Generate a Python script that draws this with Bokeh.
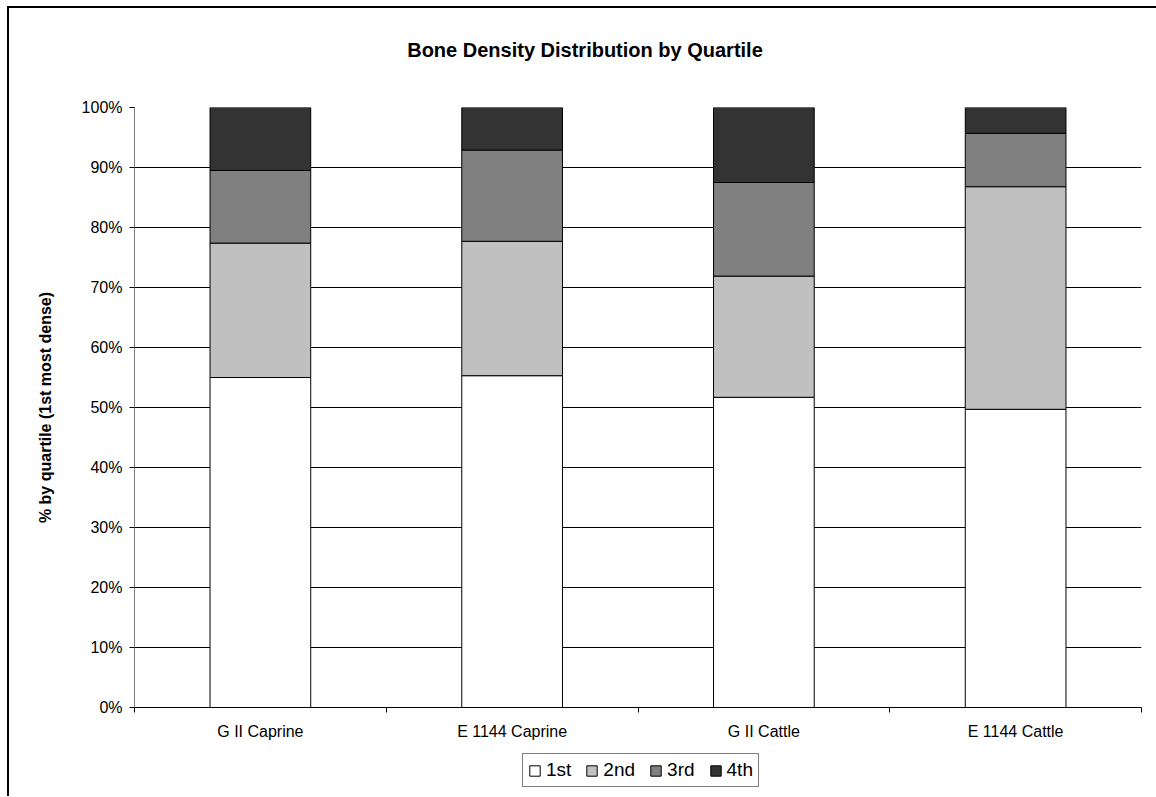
from bokeh.plotting import figure
from bokeh.layouts import column
from bokeh.models import (Range1d, FixedTicker, NumeralTickFormatter, Legend,
                          LegendItem, ColumnDataSource, Label)
from bokeh.embed import file_html
from bokeh.resources import INLINE

# ---- data ----
categories = ["G II Caprine", "E 1144 Caprine", "G II Cattle", "E 1144 Cattle"]
quartiles = ["1st", "2nd", "3rd", "4th"]
q1 = [0.550, 0.553, 0.517, 0.497]
q2 = [0.224, 0.224, 0.202, 0.371]
q3 = [0.121, 0.152, 0.156, 0.089]
q4 = [0.105, 0.071, 0.125, 0.043]
colors = ["#ffffff", "#c0c0c0", "#808080", "#333333"]
title_text = "Bone Density Distribution by Quartile"
y_title = "% by quartile (1st most dense)"
y_ticks = [0.0, 0.1, 0.2, 0.3, 0.4, 0.5, 0.6, 0.7, 0.8, 0.9, 1.0]

FONT = "Liberation Sans"
W = 1147

xpos = [i + 0.5 for i in range(len(categories))]
src = ColumnDataSource(dict(x=xpos, **{"1st": q1, "2nd": q2, "3rd": q3, "4th": q4}))


def blank(fig):
    fig.axis.visible = False
    fig.grid.visible = False
    fig.outline_line_color = None
    fig.background_fill_color = "#ffffff"
    fig.border_fill_color = "#ffffff"


# ---- title strip ----
tfig = figure(width=W, height=80, output_backend="svg", toolbar_location=None,
              x_range=Range1d(0, len(categories)), y_range=Range1d(0, 80), min_border=0)
blank(tfig)
tfig.add_layout(Label(x=1.7895, y=39, text=title_text, text_font=FONT,
                      text_font_size="20px", text_font_style="bold",
                      text_align="center", text_baseline="alphabetic",
                      text_color="#000000"))

# ---- main chart ----
p = figure(width=W, height=665, output_backend="svg", toolbar_location=None,
           x_range=Range1d(0, len(categories)), y_range=Range1d(0, 1),
           min_border_left=125, min_border_right=15, min_border_top=19,
           min_border_bottom=46)
p.outline_line_color = None
p.background_fill_color = "#ffffff"
p.border_fill_color = "#ffffff"

renderers = p.vbar_stack(quartiles, x="x", width=0.4, source=src,
                         fill_color=colors, line_color="#000000", line_width=1)

p.xgrid.grid_line_color = None
p.ygrid.grid_line_color = "#000000"
p.ygrid.grid_line_width = 1
p.ygrid.ticker = FixedTicker(ticks=y_ticks)

p.yaxis.ticker = FixedTicker(ticks=y_ticks)
p.yaxis.formatter = NumeralTickFormatter(format="0%")
p.yaxis.axis_line_color = "#808080"
p.yaxis.major_tick_line_color = "#000000"
p.yaxis.major_tick_in = 0
p.yaxis.major_tick_out = 5
p.yaxis.minor_tick_line_color = None
p.yaxis.major_label_text_font = FONT
p.yaxis.major_label_text_font_size = "16px"
p.yaxis.major_label_text_color = "#000000"
p.yaxis.major_label_standoff = 7
p.yaxis.axis_label = y_title
p.yaxis.axis_label_text_font = FONT
p.yaxis.axis_label_text_font_size = "16px"
p.yaxis.axis_label_text_font_style = "bold"
p.yaxis.axis_label_text_color = "#000000"
p.yaxis.axis_label_standoff = 25

p.xaxis.ticker = FixedTicker(ticks=xpos, minor_ticks=list(range(len(categories) + 1)))
p.xaxis.major_label_overrides = {x: c for x, c in zip(xpos, categories)}
p.xaxis.major_tick_line_color = None
p.xaxis.minor_tick_line_color = "#000000"
p.xaxis.minor_tick_in = 0
p.xaxis.minor_tick_out = 5
p.xaxis.axis_line_color = "#000000"
p.xaxis.major_label_text_font = FONT
p.xaxis.major_label_text_font_size = "16px"
p.xaxis.major_label_text_color = "#000000"
p.xaxis.major_label_standoff = 9

# ---- legend strip (same stacked series, drawn out of view; only the legend shows) ----
leg = figure(width=W, height=43, output_backend="svg", toolbar_location=None,
             x_range=Range1d(0, len(categories)), y_range=Range1d(5, 6), min_border=0)
blank(leg)
leg_renderers = leg.vbar_stack(quartiles, x="x", width=0.4, source=src,
                               fill_color=colors, line_color="#000000", line_width=1)
legend = Legend(items=[LegendItem(label=q, renderers=[r]) for q, r in zip(quartiles, leg_renderers)],
                orientation="horizontal", location=(388, 9),
                border_line_color="#000000", border_line_width=1,
                background_fill_color="#ffffff", background_fill_alpha=1,
                glyph_width=13, glyph_height=13, label_standoff=5, spacing=14,
                padding=5, margin=0, label_text_font=FONT, label_text_color="#000000",
                label_text_font_size="19px", label_height=17)
leg.add_layout(legend, "center")

layout = column(tfig, p, leg, spacing=0)
layout.styles = {"border-left": "2px solid #000000", "border-top": "2px solid #000000",
                 "margin-left": "7px", "margin-top": "6px"}

open("out.html", "w").write(file_html(layout, INLINE))
